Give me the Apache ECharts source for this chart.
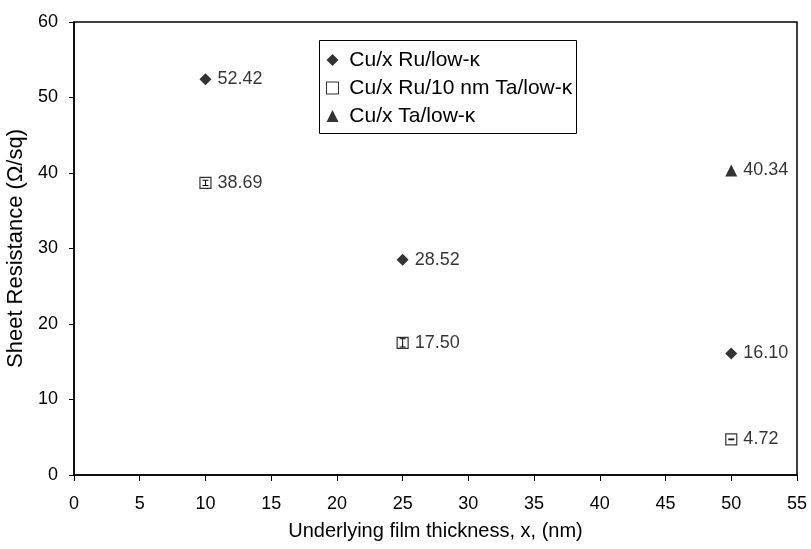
<!DOCTYPE html>
<html><head><meta charset="utf-8">
<script src="https://cdn.jsdelivr.net/npm/echarts@6/dist/echarts.min.js"></script>
<style>html,body{margin:0;padding:0;background:#fff}#c{width:811px;height:549px}</style>
</head><body><div id="c"></div>
<script>
var xRuLowK = [10, 25, 50];
var yRuLowK = [52.42, 28.52, 16.10];
var xRuTa = [10, 25, 50];
var yRuTa = [38.69, 17.50, 4.72];
var errRuTa = [0.35, 0.55, 0.05];
var xTa = [50];
var yTa = [40.34];
var seriesNames = ['Cu/x Ru/low-\u03ba', 'Cu/x Ru/10 nm Ta/low-\u03ba', 'Cu/x Ta/low-\u03ba'];
var xTitle = 'Underlying film thickness, x, (nm)';
var yTitle = 'Sheet Resistance (\u03a9/sq)';

function pairs(xs, ys){ return xs.map(function(x,i){return [x, ys[i]];}); }
var FONT = 'Liberation Sans, Arial, sans-serif';
var lbl = {show:true, position:'right', distance:6, color:'#000', fontSize:18, fontFamily:FONT,
  formatter:function(p){return p.value[1].toFixed(2);}};

var chart = echarts.init(document.getElementById('c'));
chart.setOption({
  animation:false,
  backgroundColor:'#fff',
  textStyle:{fontFamily:FONT},
  grid:{left:74, top:22, right:14, bottom:74, containLabel:false, outerBoundsMode:'none',
    show:true, borderColor:'#000', borderWidth:1.5, backgroundColor:'transparent'},
  xAxis:{type:'value', min:0, max:55, interval:5,
    name:xTitle, nameLocation:'middle', nameGap:46, nameTextStyle:{fontSize:20, color:'#000', fontFamily:FONT},
    axisLine:{show:true, lineStyle:{color:'#000', width:1.5}},
    axisTick:{show:true, inside:false, length:6, lineStyle:{color:'#000'}},
    axisLabel:{fontSize:18, color:'#000', margin:20, fontFamily:FONT},
    splitLine:{show:false}},
  yAxis:{type:'value', min:0, max:60, interval:10,
    name:yTitle, nameLocation:'middle', nameGap:40, nameTextStyle:{fontSize:22, color:'#000', fontFamily:FONT},
    axisLine:{show:true, lineStyle:{color:'#000', width:1.5}},
    axisTick:{show:true, inside:false, length:5, lineStyle:{color:'#000'}},
    axisLabel:{fontSize:18, color:'#000', margin:16, fontFamily:FONT},
    splitLine:{show:false}},
  legend:{orient:'vertical', left:321, top:43, itemGap:4, itemWidth:12, itemHeight:12,
    formatter:function(n){ return ' ' + n; },
    textStyle:{fontSize:21, lineHeight:24, color:'#000', fontFamily:FONT},
    data:[
      {name:seriesNames[0], icon:'diamond', itemStyle:{color:'#000'}},
      {name:seriesNames[1], icon:'rect', itemStyle:{color:'#fff', borderColor:'#000', borderWidth:1}},
      {name:seriesNames[2], icon:'triangle', itemStyle:{color:'#000'}}
    ]},
  graphic:[{type:'rect', left:317, top:38, shape:{width:257, height:93}, style:{fill:'none', stroke:'#000', lineWidth:1}, z:100}],
  series:[
    {name:seriesNames[0], type:'scatter', symbol:'diamond', symbolSize:12, itemStyle:{color:'#000'},
      data:pairs(xRuLowK, yRuLowK), label:lbl},
    {name:seriesNames[1], type:'scatter', symbol:'rect', symbolSize:11, itemStyle:{color:'#fff', borderColor:'#000', borderWidth:1.2},
      data:pairs(xRuTa, yRuTa), label:lbl},
    {name:'err', type:'custom', data:xRuTa.map(function(x,i){return [x, yRuTa[i], errRuTa[i]];}),
      renderItem:function(params, api){
        var x = api.value(0), y = api.value(1), e = api.value(2);
        var top = api.coord([x, y+e]), bot = api.coord([x, y-e]);
        var w = 3;
        var st = {stroke:'#000', lineWidth:1};
        return {type:'group', children:[
          {type:'line', shape:{x1:top[0], y1:top[1], x2:bot[0], y2:bot[1]}, style:st},
          {type:'line', shape:{x1:top[0]-w, y1:top[1], x2:top[0]+w, y2:top[1]}, style:st},
          {type:'line', shape:{x1:bot[0]-w, y1:bot[1], x2:bot[0]+w, y2:bot[1]}, style:st}
        ]};
      }, z:5},
    {name:seriesNames[2], type:'scatter', symbol:'triangle', symbolSize:12, itemStyle:{color:'#000'},
      data:pairs(xTa, yTa), label:lbl}
  ]
});
</script></body></html>
